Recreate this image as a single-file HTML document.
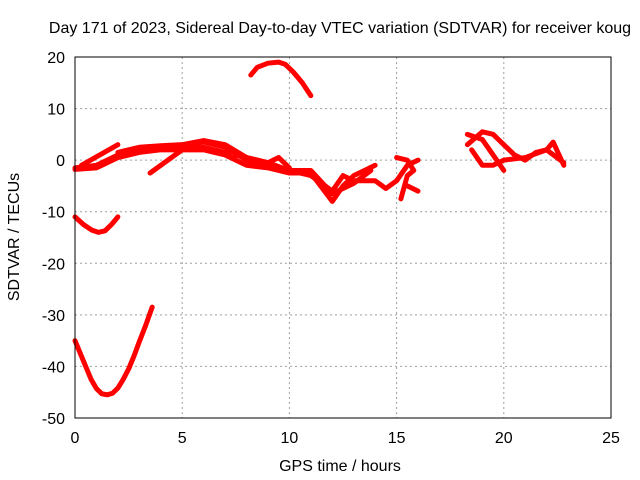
<!DOCTYPE html>
<html><head><meta charset="utf-8"><style>
body{margin:0;background:#fff}
svg{display:block;font-family:"Liberation Sans",sans-serif;font-size:16px}
</style></head><body>
<svg id="c" width="640" height="480">
<text x="340" y="33" text-anchor="middle">Day 171 of 2023, Sidereal Day-to-day VTEC variation (SDTVAR) for receiver koug</text>
<text x="340" y="471" text-anchor="middle">GPS time / hours</text>
<text transform="translate(19,237) rotate(-90)" text-anchor="middle">SDTVAR / TECUs</text>
<g id="grid"></g><g id="ticks"></g><g id="series"></g>
<rect x="75" y="57" width="536" height="361" fill="none" stroke="#000" stroke-width="1"/>
</svg>
<script>
const xTicks=[0,5,10,15,20,25];
const yTicks=[20,10,0,-10,-20,-30,-40,-50];
const s1x=[0,0.25,0.5,0.75,1,1.25,1.5,1.75,2,2.25,2.5,2.75,3,3.3,3.6], s1y=[-35,-37.5,-40,-42.5,-44.3,-45.3,-45.5,-45.2,-44.2,-42.5,-40.5,-38,-35.2,-32,-28.5];
const s2x=[0,0.4,0.8,1.1,1.4,1.7,2], s2y=[-11,-12.5,-13.6,-14,-13.7,-12.5,-11];
const s3x=[8.2,8.5,9,9.5,9.8,10.2,10.6,11], s3y=[16.5,18,18.8,19,18.6,17,15,12.5];
const s4x=[0,1,2,3,4,5,6,7,8,9,10,11,12,12.5,13,14,14.5,15,15.5,16], s4y=[-1.5,-1,1,2,2.5,2.7,3.5,2.5,0,-1,-2,-3,-6,-3,-4,-4,-5.5,-4,-1,0];
const s5x=[0,1,2,3,4,5,6,7,8,9,10,11,12,12.5,13,13.5,14], s5y=[-1.8,-1.5,0.5,1.5,2,2,2,1,-1,-1.5,-2.5,-2.5,-8,-5,-3,-2,-1];
const s6x=[0.3,2], s6y=[-1,3];
const s7x=[3.5,5,6,7,7.5], s7y=[-2.5,2,2.5,1.5,0];
const s8x=[18.3,19,19.5,20,20.5,21,21.5,22,22.3,22.8], s8y=[3,5.5,5,3,1,0,1.5,2,3.5,-1];
const s9x=[18.3,19,19.5,20], s9y=[5,4,1,-2];
const s10x=[18.5,19,19.5,20,21,22,22.8], s10y=[2,-1,-1,0,0.5,2,-0.5];
const s11x=[15,15.5,15.8,15.5,15.2], s11y=[0.5,0,-2,-3,-7.5];
const s12x=[15.5,16], s12y=[-5,-6];
const s13x=[2,3,4,5,6,7,8,9,10,11,12,13,13.8], s13y=[1.5,2.5,2.8,3,3.8,3,0.5,-0.5,-2,-2,-6.5,-4.5,-2];
const s14x=[7.5,8.5,9,9.5,10], s14y=[1,0,-0.5,0.5,-1.5];
const allSeries=[[s1x,s1y],[s2x,s2y],[s3x,s3y],[s4x,s4y],[s5x,s5y],[s6x,s6y],[s7x,s7y],[s8x,s8y],[s9x,s9y],[s10x,s10y],[s11x,s11y],[s12x,s12y],[s13x,s13y],[s14x,s14y]];
const X=h=>75+h*536/25, Y=v=>57+(20-v)*361/70;
const NS='http://www.w3.org/2000/svg';
const g=document.getElementById('grid'),t=document.getElementById('ticks'),sg=document.getElementById('series');
function mk(tag,attrs,parent){const e=document.createElementNS(NS,tag);for(const k in attrs)e.setAttribute(k,attrs[k]);parent.appendChild(e);return e;}
xTicks.forEach(v=>{
 const l=mk('line',{x1:X(v),x2:X(v),y1:57,y2:418,stroke:'#a0a0a0','stroke-dasharray':'2,3'},g);
 
 
 const tx=mk('text',{x:X(v),y:443,'text-anchor':'middle'},t);tx.textContent=v;
 
 
});
yTicks.forEach(v=>{
 const l=mk('line',{x1:75,x2:611,y1:Y(v),y2:Y(v),stroke:'#a0a0a0','stroke-dasharray':'2,3'},g);
 
 
 const tx=mk('text',{x:65,y:Y(v)+6,'text-anchor':'end'},t);tx.textContent=v;
 
 
});
allSeries.forEach(([xs,ys])=>{
 const p=mk('polyline',{points:xs.map((x,i)=>X(x)+','+Y(ys[i])).join(' '),fill:'none',stroke:'#ff0000','stroke-width':5,'stroke-linejoin':'round','stroke-linecap':'round'},sg);
 
 
});
</script>
</body></html>
